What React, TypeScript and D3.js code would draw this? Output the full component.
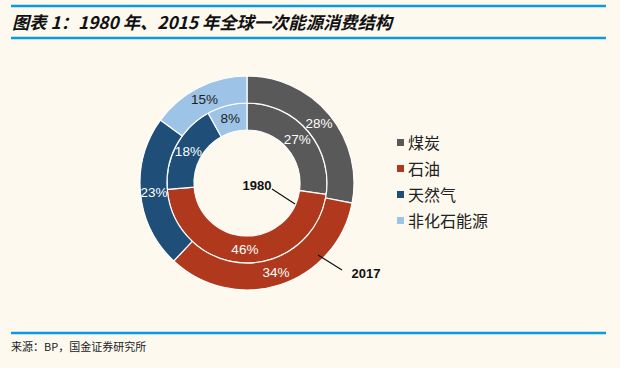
import React, { useEffect, useRef } from 'react';
import * as d3 from 'd3';

const categories = ['煤炭', '石油', '天然气', '非化石能源'];
const values1980 = [27, 46, 18, 8];
const values2017 = [28, 34, 23, 15];
const colors = ['#595959', '#b0391d', '#1f4e79', '#9dc3e6'];
const labelColors = ['#ffffff', '#ffffff', '#ffffff', '#222222'];
const title = '图表 1：1980 年、2015 年全球一次能源消费结构';
const source = '来源：BP，国金证券研究所';

const W = 620;
const H = 368;

export default function App() {
  const ref = useRef<SVGSVGElement>(null);

  useEffect(() => {
    const svg = d3.select(ref.current);
    svg.selectAll('*').remove();

    svg.append('rect').attr('width', W).attr('height', H).attr('fill', '#fdf9ef');

    // 标题和分隔线
    const lines = [6, 38, 333];
    svg.selectAll('line.rule').data(lines).enter().append('line')
      .attr('class', 'rule')
      .attr('x1', 11).attr('x2', 606)
      .attr('y1', d => d).attr('y2', d => d)
      .attr('stroke', '#0a9ae0').attr('stroke-width', 2.5);

    svg.append('text')
      .attr('x', 12).attr('y', 29)
      .attr('font-family', '"Noto Sans CJK SC", sans-serif')
      .attr('font-size', 17.3).attr('font-weight', 'bold').attr('font-style', 'italic')
      .attr('fill', '#111')
      .text(title);

    svg.append('text')
      .attr('x', 11).attr('y', 351)
      .attr('font-family', '"Noto Sans CJK SC", sans-serif')
      .attr('font-size', 11).attr('fill', '#222')
      .text(source);

    const cx = 247, cy = 183;
    const g = svg.append('g').attr('transform', `translate(${cx},${cy})`);

    const pie = d3.pie<number>().sort(null).value(d => d);

    const rings = [
      { data: values1980, inner: 53, outer: 80 },
      { data: values2017, inner: 80, outer: 107 }
    ];

    rings.forEach(ring => {
      const arcs = pie(ring.data);
      const arc = d3.arc<d3.PieArcDatum<number>>().innerRadius(ring.inner).outerRadius(ring.outer);
      const labelArc = d3.arc<d3.PieArcDatum<number>>()
        .innerRadius((ring.inner + ring.outer) / 2)
        .outerRadius((ring.inner + ring.outer) / 2);

      g.append('g').selectAll('path').data(arcs).enter().append('path')
        .attr('d', arc)
        .attr('fill', (d, i) => colors[i])
        .attr('stroke', '#ffffff').attr('stroke-width', 1.2);

      g.append('g').selectAll('text').data(arcs).enter().append('text')
        .attr('transform', d => `translate(${labelArc.centroid(d)})`)
        .attr('text-anchor', 'middle').attr('dy', '0.35em')
        .attr('font-family', '"Liberation Sans", Arial, sans-serif')
        .attr('font-size', 13.5)
        .attr('fill', (d, i) => labelColors[i])
        .text(d => d.value + '%');
    });

    // 年份标注
    const notes = [
      { text: '1980', x: 257, y: 190, line: [[272, 189], [295, 204]] },
      { text: '2017', x: 366, y: 278, line: [[318, 255], [342, 270]] }
    ];
    notes.forEach(n => {
      svg.append('path')
        .attr('d', d3.line()(n.line as [number, number][]))
        .attr('stroke', '#111').attr('stroke-width', 1.2).attr('fill', 'none');
      svg.append('text')
        .attr('x', n.x).attr('y', n.y)
        .attr('text-anchor', 'middle')
        .attr('font-family', '"Liberation Sans", Arial, sans-serif')
        .attr('font-size', 13).attr('font-weight', 'bold').attr('fill', '#111')
        .text(n.text);
    });

    // 图例
    const legend = svg.append('g').attr('transform', 'translate(397,143)');
    const items = legend.selectAll('g').data(categories).enter().append('g')
      .attr('transform', (d, i) => `translate(0,${i * 26})`);
    items.append('rect')
      .attr('x', 0).attr('y', -4).attr('width', 7).attr('height', 7)
      .attr('fill', (d, i) => colors[i]);
    items.append('text')
      .attr('x', 11).attr('y', 0).attr('dy', '0.35em')
      .attr('font-family', '"Noto Sans CJK SC", sans-serif')
      .attr('font-size', 16).attr('fill', '#222')
      .text(d => d);
  }, []);

  return <svg ref={ref} width={W} height={H} style={{ position: 'absolute', left: 0, top: 0 }} />;
}
